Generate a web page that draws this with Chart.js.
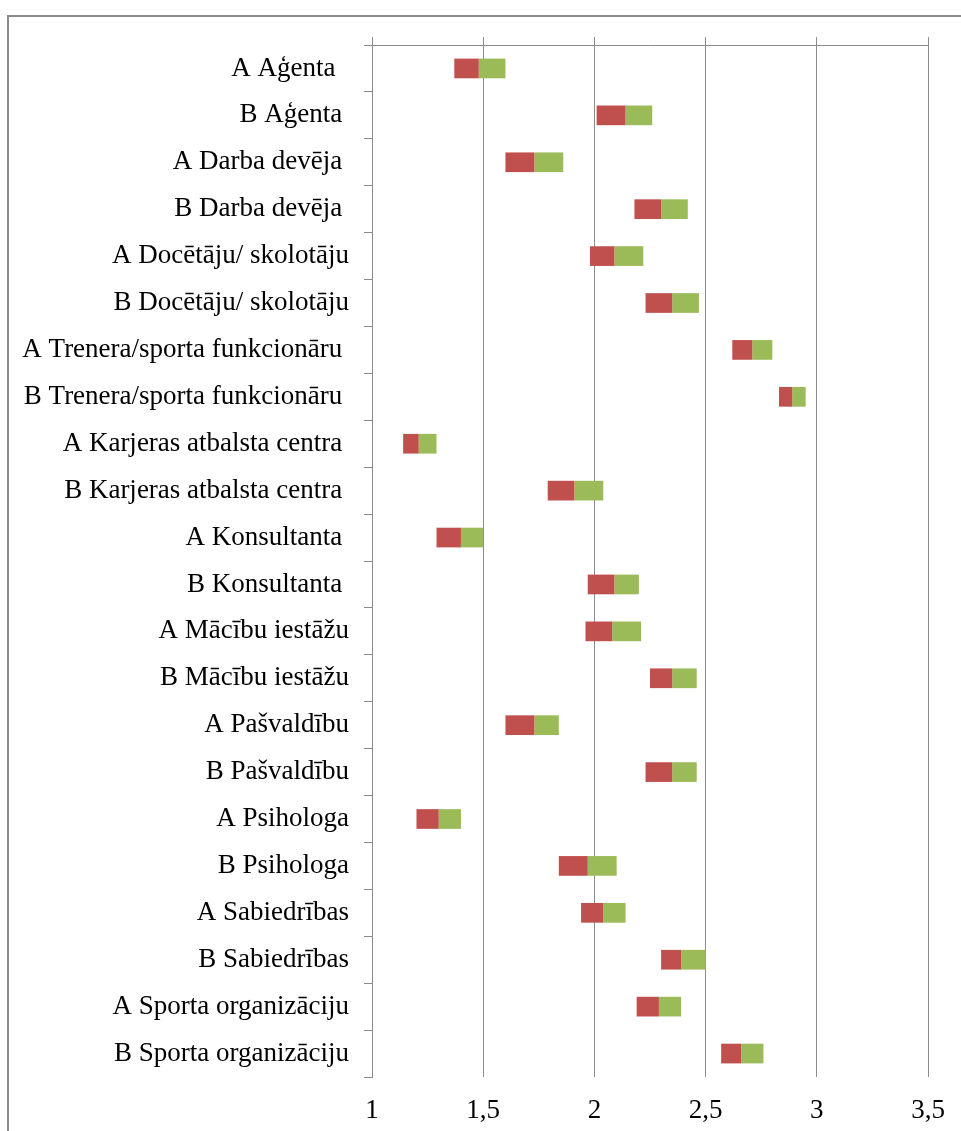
<!DOCTYPE html>
<html>
<head>
<meta charset="utf-8">
<script src="https://cdn.jsdelivr.net/npm/chart.js@4.4.1/dist/chart.umd.min.js"></script>
<style>
  html, body { margin: 0; padding: 0; background: #ffffff; }
  body { width: 961px; height: 1131px; position: relative; overflow: hidden; }
  #frame {
    position: absolute; left: 7px; top: 15px; right: -10px; bottom: -10px;
    border-left: 2px solid #8c8c8c; border-top: 2px solid #8c8c8c;
  }
  #chart { position: absolute; left: 0; top: 0; }
</style>
</head>
<body>
<div id="frame"></div>
<canvas id="chart" width="961" height="1131"></canvas>
<script>
// Categories (top to bottom)
const categories = [
  'A Aģenta  ', 'B Aģenta ', 'A Darba devēja ', 'B Darba devēja ',
  'A Docētāju/ skolotāju', 'B Docētāju/ skolotāju',
  'A Trenera/sporta funkcionāru ', 'B Trenera/sporta funkcionāru ',
  'A Karjeras atbalsta centra ', 'B Karjeras atbalsta centra ',
  'A Konsultanta ', 'B Konsultanta ', 'A Mācību iestāžu', 'B Mācību iestāžu',
  'A Pašvaldību', 'B Pašvaldību', 'A Psihologa', 'B Psihologa',
  'A Sabiedrības', 'B Sabiedrības', 'A Sporta organizāciju', 'B Sporta organizāciju'
];

// Lower bound, middle and upper bound of each range
const lowValues  = [1.37, 2.01, 1.60, 2.18, 1.98, 2.23, 2.62, 2.83, 1.14, 1.79, 1.29,
                    1.97, 1.96, 2.25, 1.60, 2.23, 1.20, 1.84, 1.94, 2.30, 2.19, 2.57];
const midValues  = [1.48, 2.14, 1.73, 2.30, 2.09, 2.35, 2.71, 2.89, 1.21, 1.91, 1.40,
                    2.09, 2.08, 2.35, 1.73, 2.35, 1.30, 1.97, 2.04, 2.39, 2.29, 2.66];
const highValues = [1.60, 2.26, 1.86, 2.42, 2.22, 2.47, 2.80, 2.95, 1.29, 2.04, 1.50,
                    2.20, 2.21, 2.46, 1.84, 2.46, 1.40, 2.10, 2.14, 2.50, 2.39, 2.76];

// Value axis
const xTickValues = [1, 1.5, 2, 2.5, 3, 3.5];
const xTickLabels = ['1', '1,5', '2', '2,5', '3', '3,5'];

const lowerSegment = categories.map((_, i) => [lowValues[i], midValues[i]]);
const upperSegment = categories.map((_, i) => [midValues[i], highValues[i]]);

const axisGray = '#8c8c8c';
const labelFont = { family: "'Liberation Serif', 'Times New Roman', serif", size: 27 };

new Chart(document.getElementById('chart'), {
  type: 'bar',
  data: {
    labels: categories,
    datasets: [
      { label: 'lower', data: lowerSegment, backgroundColor: '#c0504d', borderWidth: 0 },
      { label: 'upper', data: upperSegment, backgroundColor: '#9bbb59', borderWidth: 0 }
    ]
  },
  options: {
    indexAxis: 'y',
    responsive: false,
    animation: false,
    devicePixelRatio: 1,
    layout: { padding: { left: 0, right: 33, top: 0, bottom: 0 } },
    datasets: { bar: { grouped: false, categoryPercentage: 1, barPercentage: 0.42 } },
    plugins: { legend: { display: false }, tooltip: { enabled: false } },
    scales: {
      y: {
        type: 'category',
        position: 'left',
        offset: true,
        grid: { offset: true, drawOnChartArea: false, tickLength: 8, color: axisGray, lineWidth: 1 },
        border: { display: true, color: axisGray, width: 1 },
        ticks: { color: '#000000', font: labelFont, padding: 15, autoSkip: false },
        afterFit: (scale) => { scale.width = 372; }
      },
      x: {
        type: 'linear',
        position: 'bottom',
        min: 1, max: 3.5,
        afterBuildTicks: (scale) => { scale.ticks = xTickValues.map(v => ({ value: v })); },
        grid: { drawTicks: false, color: axisGray, lineWidth: 1 },
        border: { display: false },
        ticks: {
          color: '#000000', font: labelFont, padding: 18, maxRotation: 0,
          callback: (value) => xTickLabels[xTickValues.indexOf(value)]
        },
        afterFit: (scale) => {
          scale.height = 54;
          scale.paddingLeft = 0;
          scale.paddingRight = 0;
        }
      },
      x2: {
        type: 'linear',
        position: 'top',
        min: 1, max: 3.5,
        afterBuildTicks: (scale) => { scale.ticks = xTickValues.map(v => ({ value: v })); },
        grid: { drawOnChartArea: false, drawTicks: true, tickLength: 8, color: axisGray, lineWidth: 1 },
        border: { display: true, color: axisGray, width: 1 },
        ticks: { display: false },
        afterFit: (scale) => { scale.height = 45; }
      }
    }
  }
});
</script>
</body>
</html>
